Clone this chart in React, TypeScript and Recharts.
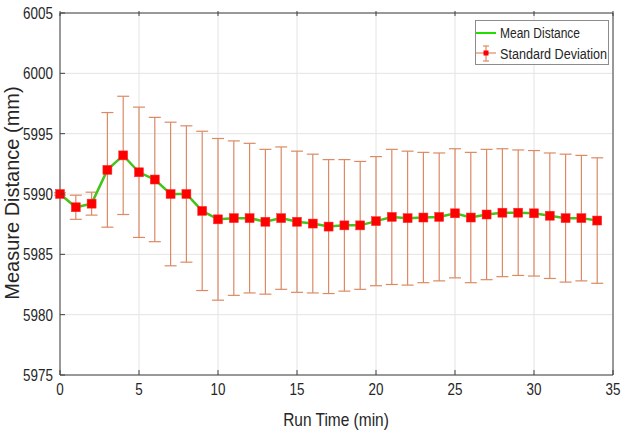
import { LineChart, Line, XAxis, YAxis, CartesianGrid, ErrorBar } from 'recharts';

const runTime = [0, 1, 2, 3, 4, 5, 6, 7, 8, 9, 10, 11, 12, 13, 14, 15, 16, 17, 18, 19, 20, 21, 22, 23, 24, 25, 26, 27, 28, 29, 30, 31, 32, 33, 34];
const meanDistance = [5990.0, 5988.9, 5989.2, 5992.0, 5993.2, 5991.8, 5991.2, 5990.0, 5990.0, 5988.6, 5987.9, 5988.0, 5988.0, 5987.7, 5988.0, 5987.7, 5987.55, 5987.3, 5987.4, 5987.4, 5987.75, 5988.1, 5988.0, 5988.05, 5988.1, 5988.4, 5988.05, 5988.3, 5988.45, 5988.45, 5988.4, 5988.2, 5988.0, 5988.0, 5987.8];
const stdDev = [0.1, 1.0, 0.95, 4.75, 4.9, 5.4, 5.15, 5.95, 5.65, 6.6, 6.7, 6.4, 6.2, 6.0, 5.9, 5.85, 5.75, 5.55, 5.45, 5.3, 5.35, 5.6, 5.55, 5.4, 5.3, 5.35, 5.4, 5.4, 5.3, 5.2, 5.2, 5.2, 5.3, 5.2, 5.2];
const xTicks = [0, 5, 10, 15, 20, 25, 30, 35];
const yTicks = [5975, 5980, 5985, 5990, 5995, 6000, 6005];

const data = runTime.map((t, i) => ({ t, mean: meanDistance[i], sd: stdDev[i] }));

// arial-narrow look: liberation sans squeezed horizontally
const FONT = '"Liberation Sans", Arial, sans-serif';
const AXIS = '#404040';
const TXT = '#262626';
const ERR = '#dc8a64';

const Narrow = ({ x, y, size, anchor, rotate, sq = 0.84, children }: any) => (
  <text
    transform={`translate(${x},${y}) rotate(${rotate || 0}) scale(${sq},1)`}
    textAnchor={anchor}
    fontSize={size}
    fill={TXT}
    fontFamily={FONT}
  >
    {children}
  </text>
);

const LeftTick = (props: any) => {
  const { x, y, payload } = props;
  return (
    <g>
      <line x1={x + 7} x2={x + 12} y1={y} y2={y} stroke={AXIS} />
      <Narrow x={x} y={y + 6} size={16} anchor="end">{payload.value}</Narrow>
    </g>
  );
};

const RightTick = (props: any) => {
  const { x, y } = props;
  return <line x1={x - 5} x2={x} y1={y} y2={y} stroke={AXIS} />;
};

const BottomTick = (props: any) => {
  const { x, y, payload } = props;
  return (
    <g>
      <line x1={x} x2={x} y1={y - 6} y2={y - 11} stroke={AXIS} />
      <Narrow x={x} y={y + 14} size={16} anchor="middle">{payload.value}</Narrow>
    </g>
  );
};

const TopTick = (props: any) => {
  const { x, y } = props;
  return <line x1={x} x2={x} y1={y} y2={y + 5} stroke={AXIS} />;
};

const SquareDot = (props: any) => {
  const { cx, cy, index } = props;
  if (cx == null || cy == null) return null;
  return <rect key={index} x={cx - 4.5} y={cy - 4.5} width={9} height={9} fill="#ff0000" stroke="#ff3030" strokeWidth={0.5} />;
};

export default function App() {
  return (
    <div style={{ position: 'absolute', left: 0, top: 0, width: 625, height: 433, background: '#fff' }}>
      <LineChart width={625} height={433} data={data} margin={{ top: 0, right: 0, bottom: 0, left: 0 }}>
        <CartesianGrid stroke="#e4e4e4" strokeWidth={1} xAxisId="bottom" yAxisId="left" />
        <XAxis
          xAxisId="bottom"
          dataKey="t"
          type="number"
          domain={[0, 35]}
          ticks={xTicks}
          height={58}
          tickSize={0}
          tickMargin={6}
          stroke={AXIS}
          tick={<BottomTick />}
        />
        <XAxis
          xAxisId="top"
          dataKey="t"
          type="number"
          orientation="top"
          domain={[0, 35]}
          ticks={xTicks}
          height={13}
          tickSize={0}
          stroke={AXIS}
          tick={<TopTick />}
        />
        <YAxis
          yAxisId="left"
          type="number"
          domain={[5975, 6005]}
          ticks={yTicks}
          width={60}
          tickSize={0}
          tickMargin={7}
          stroke={AXIS}
          tick={<LeftTick />}
        />
        <YAxis
          yAxisId="right"
          orientation="right"
          type="number"
          domain={[5975, 6005]}
          ticks={yTicks}
          width={12}
          tickSize={0}
          stroke={AXIS}
          tick={<RightTick />}
        />
        <Line
          xAxisId="bottom"
          yAxisId="left"
          dataKey="mean"
          stroke="none"
          dot={false}
          activeDot={false}
          isAnimationActive={false}
        >
          <ErrorBar dataKey="sd" width={6} stroke={ERR} strokeWidth={1.2} direction="y" />
        </Line>
        <Line
          xAxisId="bottom"
          yAxisId="left"
          dataKey="mean"
          stroke="#44c41a"
          strokeWidth={2.5}
          dot={<SquareDot />}
          activeDot={false}
          isAnimationActive={false}
        />
      </LineChart>
      <svg width={625} height={433} style={{ position: 'absolute', left: 0, top: 0, pointerEvents: 'none' }}>
        <Narrow x={336} y={426} size={18} sq={0.86} anchor="middle">Run Time (min)</Narrow>
        <Narrow x={19} y={193} size={20} sq={1} anchor="middle" rotate={-90}>Measure Distance (mm)</Narrow>
        <g transform="translate(475,20)">
          <rect x={0.5} y={0.5} width={133} height={44} fill="#fff" stroke="#8c8c8c" />
          <line x1={1} x2={21} y1={13} y2={13} stroke="#22dd00" strokeWidth={2} />
          <line x1={1} x2={21} y1={33} y2={33} stroke={ERR} strokeWidth={1.2} />
          <line x1={11} x2={11} y1={26} y2={41} stroke={ERR} strokeWidth={1.2} />
          <line x1={8} x2={14} y1={26} y2={26} stroke={ERR} strokeWidth={1.2} />
          <line x1={8} x2={14} y1={41} y2={41} stroke={ERR} strokeWidth={1.2} />
          <rect x={8.5} y={30.5} width={5} height={5} fill="#ff0000" />
          <Narrow x={25} y={18} size={15} sq={0.8} anchor="start">Mean Distance</Narrow>
          <Narrow x={25} y={39} size={15} anchor="start">Standard Deviation</Narrow>
        </g>
      </svg>
    </div>
  );
}
